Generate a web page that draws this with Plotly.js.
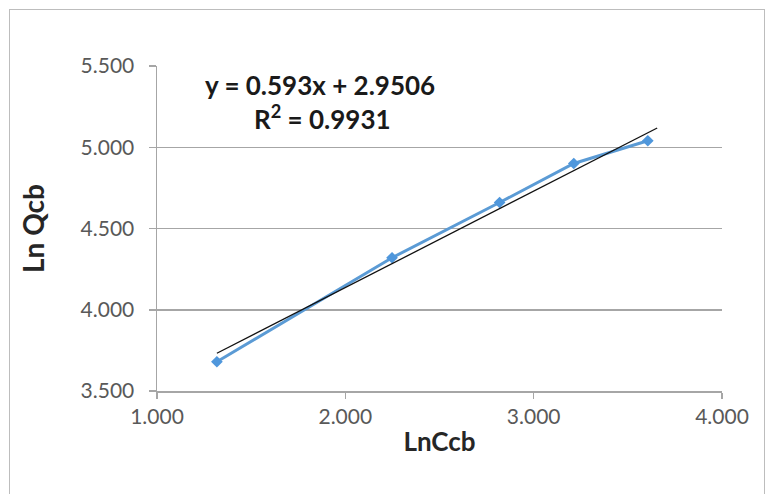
<!DOCTYPE html>
<html>
<head>
<meta charset="utf-8">
<script src="https://cdn.plot.ly/plotly-3.0.1.min.js"></script>
<style>
  html, body { margin: 0; padding: 0; background: #fff; }
  #wrap { position: relative; width: 773px; height: 494px; overflow: hidden; }
  #chart { position: absolute; left: 0; top: 0; width: 773px; height: 494px; }
  #frame { position: absolute; left: 9px; top: 9px; width: 754px; height: 500px;
           border: 1.5px solid #bdbdbd; pointer-events: none; }
</style>
</head>
<body>
<div id="wrap">
  <div id="chart"></div>
  <div id="frame"></div>
</div>
<script>
// Data
const lnCcb = [1.318, 2.248, 2.819, 3.213, 3.606];
const lnQcb = [3.68, 4.32, 4.66, 4.90, 5.04];
// Trend line coefficients as printed on the chart
const trendSlope = [0.593];
const trendIntercept = [2.9506];
const trendR2 = ["0.9931"];
const xTicks = [1, 2, 3, 4];
const xTickText = ["1.000", "2.000", "3.000", "4.000"];
const yTicks = [3.5, 4.0, 4.5, 5.0, 5.5];
const yTickText = ["3.500", "4.000", "4.500", "5.000", "5.500"];

const xMin = Math.min(...lnCcb), xMax = Math.max(...lnCcb) + 0.05;
const trendX = [xMin, xMax];
const trendY = trendX.map(v => trendSlope[0] * v + trendIntercept[0]);

const fontFam = "Lato, 'Open Sans', sans-serif";
const gridCol = "#a6a6a6";

const data = [
  {
    x: lnCcb, y: lnQcb, type: "scatter", mode: "lines+markers",
    line: { color: "#5b9bd5", width: 3 },
    marker: { symbol: "diamond", size: 9, color: "#4f97dc" },
    hoverinfo: "x+y", showlegend: false
  },
  {
    x: trendX, y: trendY, type: "scatter", mode: "lines",
    line: { color: "#111111", width: 1.3 },
    showlegend: false, hoverinfo: "skip"
  }
];

const layout = {
  width: 773, height: 494,
  margin: { l: 157, r: 51, t: 66, b: 103, pad: 0 },
  paper_bgcolor: "rgba(0,0,0,0)", plot_bgcolor: "#fff",
  font: { family: fontFam, color: "#595959" },
  xaxis: {
    range: [1, 4], tickvals: xTicks, ticktext: xTickText,
    showgrid: false, zeroline: false,
    showline: true, linecolor: gridCol, linewidth: 1.5,
    ticks: "outside", ticklen: 6, tickcolor: gridCol, tickwidth: 1.5,
    tickfont: { size: 21, color: "#595959", family: fontFam },
    title: { text: "<b>LnCcb</b>", font: { size: 26, color: "#262626", family: fontFam }, standoff: 6 }
  },
  yaxis: {
    range: [3.5, 5.5], tickvals: yTicks, ticktext: yTickText,
    showgrid: true, gridcolor: gridCol, gridwidth: 1.5, zeroline: false,
    showline: true, linecolor: gridCol, linewidth: 1.5,
    ticks: "outside", ticklen: 7, tickcolor: gridCol, tickwidth: 1.5,
    ticklabelstandoff: 10,
    tickfont: { size: 21, color: "#595959", family: fontFam },
    title: { text: "<b>Ln Qcb</b>", font: { size: 28, color: "#262626", family: fontFam }, standoff: 28 }
  },
  annotations: [
    {
      xref: "paper", yref: "paper", x: (320 - 157) / 565, y: (391 - 85) / 325,
      xanchor: "center", yanchor: "middle", showarrow: false,
      text: "<b>y = " + trendSlope[0] + "x + " + trendIntercept[0] + "</b>",
      font: { size: 26, color: "#1a1a1a", family: fontFam }
    },
    {
      xref: "paper", yref: "paper", x: (322 - 157) / 565, y: (391 - 117) / 325,
      xanchor: "center", yanchor: "middle", showarrow: false,
      text: "<b>R<sup>2</sup> = " + trendR2[0] + "</b>",
      font: { size: 26, color: "#1a1a1a", family: fontFam }
    }
  ]
};

Plotly.newPlot("chart", data, layout, { displayModeBar: false, staticPlot: true });
</script>
</body>
</html>
